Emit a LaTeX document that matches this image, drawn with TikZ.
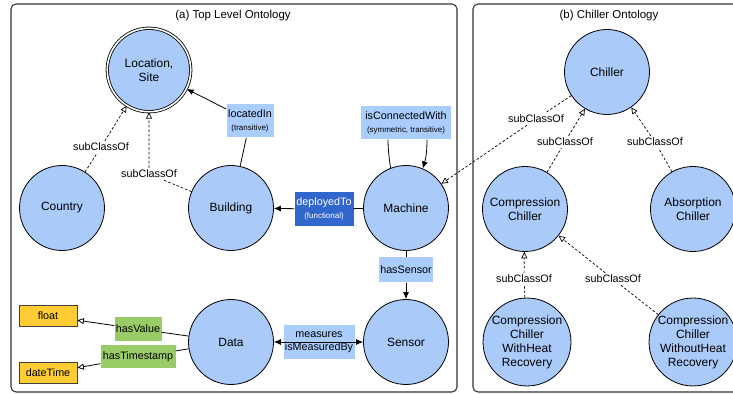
\documentclass[tikz,border=0pt]{standalone}
\usepackage{fontspec}
\setmainfont{Liberation Sans}
\usetikzlibrary{arrows,arrows.meta,shapes}
\definecolor{clsblue}{RGB}{170,202,250}
\definecolor{lblblue}{RGB}{170,204,255}
\definecolor{fnblue}{RGB}{51,102,204}
\definecolor{dtgreen}{RGB}{153,204,102}
\definecolor{xsdorange}{RGB}{255,204,51}
\newcommand{\lsub}[1]{{\fontsize{8}{9}\selectfont #1}}

\begin{document}
\begin{tikzpicture}[>={Latex[length=7bp,width=6bp]}]
      \tikzstyle{every node}=[font=\fontsize{10.8}{13}\selectfont]
      \tikzstyle{cls}=[circle,draw,line width=0.8bp,fill=clsblue,minimum size=85bp,inner sep=0pt,align=center,font=\fontsize{12}{14}\selectfont]
      \tikzstyle{prop}=[fill=lblblue,inner sep=0pt,align=center]
      \tikzstyle{lit}=[draw=black!75,line width=0.8bp,fill=xsdorange,minimum width=58bp,minimum height=21bp,inner sep=0pt]
      \tikzstyle{sub}=[inner sep=2bp]
      \tikzstyle{subedge}=[line width=0.7bp,dash pattern=on 2.5bp off 2bp,-{Triangle[open,length=6.5bp,width=6bp]}]
      \tikzstyle{rel}=[line width=0.8bp]
      \tikzstyle{lit edge}=[rel,-{Triangle[open,length=6.5bp,width=6bp]}]
      %%
      \useasboundingbox (0bp,0bp) rectangle (733bp,394bp);
      \draw [rounded corners=5bp,line width=1.1bp,black!80] (11bp,2bp) rectangle (457bp,390bp);
      \draw [rounded corners=5bp,line width=1.1bp,black!80] (473bp,2bp) rectangle (760bp,390bp);
      \node (title_a) at (233bp,378bp) [font=\fontsize{11.5}{13}\selectfont] {(a) Top Level Ontology};
      \node (title_b) at (609bp,378bp) [font=\fontsize{11.5}{13}\selectfont] {(b) Chiller Ontology};
      %% top level ontology
  \node (a_loc) at (149bp,324bp) [cls,double,double distance=1.6bp,minimum size=83.5bp] {Location,\\Site};
  \node (a_country) at (62bp,186bp) [cls] {Country};
  \node (a_building) at (231bp,186bp) [cls] {Building};
  \node (a_machine) at (406bp,186bp) [cls] {Machine};
  \node (a_data) at (231bp,52bp) [cls] {Data};
  \node (a_sensor) at (406bp,52bp) [cls] {Sensor};
  \node (a_float) at (48bp,78bp) [lit] {float};
  \node (a_datetime) at (48bp,21bp) [lit] {dateTime};
  \node (l_located) at (250bp,273bp) [prop,minimum width=47bp,minimum height=33bp] {locatedIn\\\lsub{(transitive)}};
  \node (l_connected) at (406bp,271bp) [prop,minimum width=90bp,minimum height=33bp] {isConnectedWith\\\lsub{(symmetric, transitive)}};
  \node (l_deployed) at (324bp,185bp) [prop,fill=fnblue,text=white,minimum width=59bp,minimum height=34bp] {deployedTo\\\lsub{(functional)}};
  \node (l_hassensor) at (406bp,124bp) [prop,minimum width=54bp,minimum height=25bp] {hasSensor};
  \node (l_measures) at (319bp,51.8bp) [prop,minimum width=71bp,minimum height=34bp,font=\fontsize{10.8}{13.5}\selectfont] {measures\\isMeasuredBy};
  \node (l_hasvalue) at (138bp,65bp) [prop,fill=dtgreen,minimum width=47bp,minimum height=24bp] {hasValue};
  \node (l_hastimestamp) at (138bp,37bp) [prop,fill=dtgreen,minimum width=75bp,minimum height=23bp] {hasTimestamp};
  \node (s_country) at (101bp,247bp) [sub] {subClassOf};
  \node (s_building) at (149bp,220bp) [sub] {subClassOf};
      %% chiller ontology
  \node (b_chiller) at (607bp,322bp) [cls] {Chiller};
  \node (b_compression) at (525bp,185bp) [cls] {Compression\\Chiller};
  \node (b_absorption) at (693bp,185bp) [cls] {Absorption\\Chiller};
  \node (b_withheat) at (527bp,52bp) [cls] {Compression\\Chiller\\WithHeat\\Recovery};
  \node (b_withoutheat) at (693bp,52bp) [cls] {Compression\\Chiller\\WithoutHeat\\Recovery};
  \node (s_chiller) at (536bp,275bp) [sub] {subClassOf};
  \node (s_compression) at (565bp,252bp) [sub] {subClassOf};
  \node (s_absorption) at (655bp,252bp) [sub] {subClassOf};
  \node (s_withheat) at (524bp,115bp) [sub] {subClassOf};
  \node (s_withoutheat) at (613bp,115bp) [sub] {subClassOf};
      %% edges
  \draw [subedge] (a_country) -- (s_country) -- (a_loc);
  \draw [subedge] (a_building) -- (s_building) -- (a_loc);
  \draw [rel,->] (a_building) -- (l_located) -- (a_loc);
  \draw [rel,->] (a_machine) -- (l_deployed) -- (a_building);
  \draw [rel,->] (a_machine) -- (l_hassensor) -- (a_sensor);
  \draw [rel,<->] (a_data) -- (a_sensor);
  \draw [lit edge] (a_data) -- (l_hasvalue) -- (a_float);
  \draw [lit edge] (a_data) -- (l_hastimestamp) -- (a_datetime);
  \draw [rel] (a_machine.111) ..controls (389bp,236bp) and (388bp,246bp) .. ([xshift=-18bp]l_connected.south);
  \draw [rel,->] ([xshift=21bp]l_connected.south) ..controls (427bp,244bp) and (426bp,236bp) .. (a_machine.67);
  \draw [subedge] (b_chiller) -- (s_chiller) -- (a_machine);
  \draw [subedge] (b_compression) -- (s_compression) -- (b_chiller);
  \draw [subedge] (b_absorption) -- (s_absorption) -- (b_chiller);
  \draw [subedge] (b_withheat) -- (s_withheat) -- (b_compression);
  \draw [subedge] (b_withoutheat) -- (s_withoutheat) -- (b_compression);
%
\end{tikzpicture}
\end{document}
